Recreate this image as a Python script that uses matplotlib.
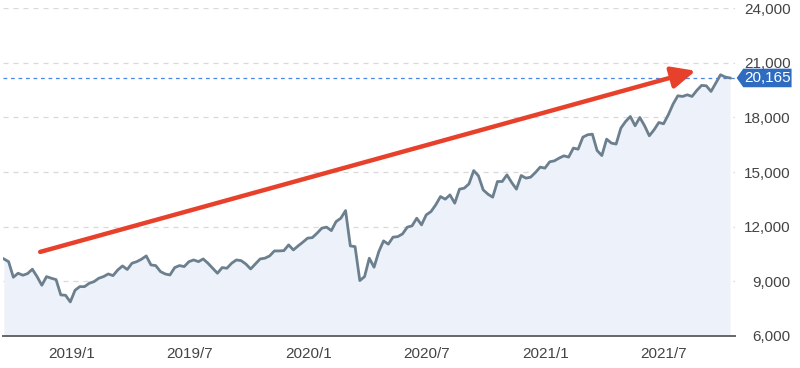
import numpy as np
import pandas as pd
import matplotlib
matplotlib.use("Agg")
import matplotlib.pyplot as plt
import matplotlib.dates as mdates
from matplotlib.patches import FancyArrowPatch, Polygon
from matplotlib.transforms import blended_transform_factory

plt.rcParams['font.family'] = ['Liberation Sans', 'DejaVu Sans']

# weekly closes
valores = [
    10230, 10080, 9225, 9445, 9335, 9425, 9665, 9260, 8785, 9260,
    9170, 9095, 8255, 8235, 7870, 8510, 8710, 8710, 8895, 8985,
    9170, 9260, 9405, 9315, 9625, 9845, 9650, 9995, 10080, 10215,
    10395, 9900, 9865, 9535, 9405, 9350, 9755, 9865, 9810, 10080,
    10175, 10080, 10230, 9995, 9720, 9445, 9755, 9720, 9995, 10175,
    10135, 9950, 9680, 9955, 10230, 10270, 10395, 10670, 10670, 10685,
    11000, 10725, 10945, 11150, 11370, 11400, 11645, 11920, 11975, 11785,
    12280, 12465, 12885, 10945, 10905, 9040, 9260, 10270, 9775, 10630,
    11220, 11040, 11425, 11455, 11605, 11975, 12045, 12465, 12100, 12650,
    12830, 13200, 13655, 13510, 13745, 13290, 14060, 14115, 14350, 15080,
    14790, 14020, 13785, 13620, 14480, 14480, 14845, 14425, 14060, 14810,
    14665, 14720, 14975, 15270, 15215, 15560, 15615, 15765, 15890, 15820,
    16315, 16255, 16915, 17045, 17080, 16180, 15905, 16805, 16590, 16535,
    17410, 17775, 18050, 17540, 17995, 17540, 16990, 17320, 17720, 17650,
    18145, 18730, 19185, 19150, 19240, 19150, 19480, 19755, 19735, 19425,
    19885, 20340, 20215, 20165,
]
inicio = "2018-09-18"
fim = "2021-10-12"
ultimo = 20165

ticks_x = ["2019-01-01", "2019-07-01", "2020-01-01", "2020-07-01", "2021-01-01", "2021-07-01"]
rotulos_x = ["2019/1", "2019/7", "2020/1", "2020/7", "2021/1", "2021/7"]
ticks_y = [6000, 9000, 12000, 15000, 18000, 21000, 24000]

# red trend arrow endpoints
seta_inicio = ("2018-11-13", 10615)
seta_fim = ("2021-08-20", 20560)

datas = pd.date_range(inicio, fim, periods=len(valores))

fig = plt.figure(figsize=(8, 3.68), dpi=100)
ax = fig.add_axes([0.004, 0.087, 0.915, 0.891])

ax.fill_between(datas, valores, 6000, color="#edf1f9", lw=0)
ax.plot(datas, valores, color="#6b7f8e", lw=2.0, solid_joinstyle="round")

ax.set_xlim(pd.Timestamp("2018-09-17"), pd.Timestamp("2021-10-20"))
ax.set_ylim(6000, 24000)

for v in ticks_y[1:]:
    ax.axhline(v, color="#d9d9d9", lw=0.9, ls=(0, (4, 4)), zorder=0)

for s in ["top", "left", "right"]:
    ax.spines[s].set_visible(False)
ax.spines["bottom"].set_color("#666666")
ax.spines["bottom"].set_linewidth(1.4)

ax.set_xticks([pd.Timestamp(t) for t in ticks_x])
ax.set_xticklabels(rotulos_x)
ax.yaxis.tick_right()
ax.set_yticks(ticks_y)
ax.set_yticklabels([f"{v:,}" for v in ticks_y])
for lbl in ax.get_yticklabels():
    lbl.set_horizontalalignment("right")
ax.tick_params(axis="x", length=0, pad=8, labelsize=11, labelcolor="#444444")
ax.tick_params(axis="y", length=0, pad=40, labelsize=11, labelcolor="#444444")

# last value line and tag
ax.axhline(ultimo, color="#4a86e8", lw=0.9, ls=(0, (3, 3)), zorder=1)
tr = blended_transform_factory(ax.transAxes, ax.transData)
meia = 510
tag = Polygon([(1.002, ultimo), (1.011, ultimo + meia), (1.077, ultimo + meia),
               (1.077, ultimo - meia), (1.011, ultimo - meia)],
              closed=True, transform=tr, clip_on=False, color="#2f6cc0", lw=0)
ax.add_patch(tag)
ax.text(1.044, ultimo, f"{ultimo:,}", transform=tr, ha="center", va="center",
        color="white", fontsize=11, clip_on=False)

seta = FancyArrowPatch((mdates.date2num(pd.Timestamp(seta_inicio[0])), seta_inicio[1]),
                       (mdates.date2num(pd.Timestamp(seta_fim[0])), seta_fim[1]),
                       arrowstyle="-|>,head_length=1.2,head_width=0.55",
                       mutation_scale=12, color="#e8412b", lw=3.2,
                       shrinkA=0, shrinkB=0, zorder=5)
ax.add_patch(seta)

fig.savefig("out.png", dpi=100)
